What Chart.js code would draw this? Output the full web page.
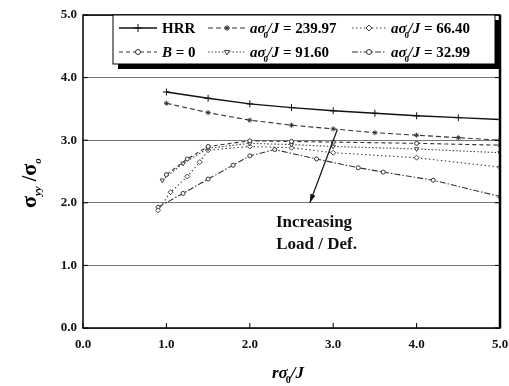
<!DOCTYPE html>
<html>
<head>
<meta charset="utf-8">
<script src="https://cdn.jsdelivr.net/npm/chart.js@4.4.0/dist/chart.umd.min.js"></script>
<style>
  html, body { margin: 0; padding: 0; background: #fff; }
  #wrap { width: 509px; height: 386px; }
</style>
</head>
<body>
<div id="wrap"><canvas id="chart"></canvas></div>
<script>
// axis ticks
const xTicks = [0, 1, 2, 3, 4, 5];
const yTicks = [0, 1, 2, 3, 4, 5];

// series (x = r*sigma0/J, y = sigma_yy/sigma0)
const hrrX = [1.0, 1.5, 2.0, 2.5, 3.0, 3.5, 4.0, 4.5, 5.0];
const hrrY = [3.77, 3.67, 3.58, 3.52, 3.47, 3.43, 3.39, 3.36, 3.33];

const a239X = [1.0, 1.5, 2.0, 2.5, 3.0, 3.5, 4.0, 4.5, 5.0];
const a239Y = [3.59, 3.44, 3.32, 3.24, 3.18, 3.12, 3.08, 3.04, 3.0];

const b0X = [1.0, 1.25, 1.5, 2.0, 2.5, 3.0, 4.0, 5.0];
const b0Y = [2.45, 2.7, 2.9, 2.99, 2.98, 2.97, 2.95, 2.92];

const a91X = [0.95, 1.2, 1.5, 2.0, 2.5, 3.0, 4.0, 5.0];
const a91Y = [2.36, 2.63, 2.87, 2.95, 2.93, 2.9, 2.86, 2.8];

const a66X = [0.9, 1.05, 1.25, 1.4, 1.5, 2.0, 2.5, 3.0, 4.0, 5.0];
const a66Y = [1.88, 2.17, 2.42, 2.65, 2.84, 2.9, 2.88, 2.8, 2.72, 2.57];

const a32X = [0.9, 1.2, 1.5, 1.8, 2.0, 2.3, 2.8, 3.3, 3.6, 4.2, 5.0];
const a32Y = [1.93, 2.15, 2.38, 2.6, 2.75, 2.85, 2.7, 2.56, 2.49, 2.36, 2.1];

// legend labels
const legendValues = ["", "239.97", "", "91.60", "66.40", "32.99"];

// annotation: arrow from start to end, in data units
const arrowFrom = [3.05, 3.17];
const arrowTo = [2.72, 2.0];
const noteLines = ["Increasing", "Load / Def."];
const notePos = [[2.77, 1.69], [2.8, 1.33]];

const pts = (xs, ys) => xs.map((x, i) => ({ x: x, y: ys[i] }));

const serif = "'Liberation Serif', 'DejaVu Serif', serif";

const datasets = [
  { label: "HRR", data: pts(hrrX, hrrY), borderColor: "#111", borderWidth: 1.4,
    pointStyle: "cross", pointRadius: 3.5, borderDash: [] },
  { label: "a239", data: pts(a239X, a239Y), borderColor: "#333", borderWidth: 1.1,
    pointStyle: "star", pointRadius: 2.5, borderDash: [5, 3] },
  { label: "B0", data: pts(b0X, b0Y), borderColor: "#333", borderWidth: 1.1,
    pointStyle: "circle", pointRadius: 2, borderDash: [4, 3] },
  { label: "a91", data: pts(a91X, a91Y), borderColor: "#444", borderWidth: 1.1,
    pointStyle: "triangle", rotation: 180, pointRadius: 2.5, borderDash: [1.5, 2] },
  { label: "a66", data: pts(a66X, a66Y), borderColor: "#444", borderWidth: 1.1,
    pointStyle: "rectRot", pointRadius: 2.5, borderDash: [1.5, 2.5] },
  { label: "a32", data: pts(a32X, a32Y), borderColor: "#333", borderWidth: 1.1,
    pointStyle: "circle", pointRadius: 2, borderDash: [6, 2, 1.5, 2] },
];
datasets.forEach((d) => {
  d.showLine = true;
  d.fill = false;
  d.tension = 0;
  d.backgroundColor = "#fff";
  d.pointBackgroundColor = "#fff";
  d.pointBorderColor = d.borderColor;
  d.pointBorderWidth = 1;
});

// "a sigma_0 / J = value" with a subscript 0
function drawSubLabel(ctx, x, y, value) {
  ctx.textBaseline = "alphabetic";
  ctx.textAlign = "left";
  ctx.font = "italic bold 15px " + serif;
  ctx.fillText("a\u03C3", x, y);
  let w = ctx.measureText("a\u03C3").width;
  ctx.font = "bold 9px " + serif;
  ctx.fillText("0", x + w - 2, y + 5);
  ctx.font = "italic bold 15px " + serif;
  ctx.fillText("/J", x + w + 2, y);
  w += 2 + ctx.measureText("/J").width;
  ctx.font = "bold 15px " + serif;
  ctx.fillText(" = " + value, x + w, y);
}

function sampleLine(ctx, ds, x1, x2, y) {
  ctx.save();
  ctx.strokeStyle = ds.borderColor;
  ctx.fillStyle = "#fff";
  ctx.lineWidth = ds.borderWidth;
  ctx.setLineDash(ds.borderDash);
  ctx.beginPath();
  ctx.moveTo(x1, y);
  ctx.lineTo(x2, y);
  ctx.stroke();
  ctx.setLineDash([]);
  ctx.lineWidth = 1;
  Chart.helpers.drawPoint(ctx, {
    pointStyle: ds.pointStyle, radius: ds.pointRadius + 0.5, rotation: ds.rotation || 0,
    borderWidth: 1
  }, (x1 + x2) / 2, y);
  ctx.restore();
}

const decorPlugin = {
  id: "decor",
  afterDatasetsDraw(chart) {
    const ctx = chart.ctx;
    const a = chart.chartArea;
    const xs = chart.scales.x, ys = chart.scales.y;
    ctx.save();

    // frame
    ctx.strokeStyle = "#000";
    ctx.lineWidth = 1.5;
    ctx.strokeRect(a.left, a.top, a.right - a.left, a.bottom - a.top);
    ctx.lineWidth = 2.5;
    ctx.beginPath();
    ctx.moveTo(a.right, a.top);
    ctx.lineTo(a.right, a.bottom);
    ctx.stroke();

    // inward ticks
    ctx.lineWidth = 1;
    yTicks.forEach((v) => {
      const py = ys.getPixelForValue(v);
      ctx.beginPath(); ctx.moveTo(a.left, py); ctx.lineTo(a.left + 5, py); ctx.stroke();
      ctx.beginPath(); ctx.moveTo(a.right, py); ctx.lineTo(a.right - 5, py); ctx.stroke();
    });
    xTicks.forEach((v) => {
      const px = xs.getPixelForValue(v);
      ctx.beginPath(); ctx.moveTo(px, a.bottom); ctx.lineTo(px, a.bottom - 5); ctx.stroke();
    });

    // arrow
    const x1 = xs.getPixelForValue(arrowFrom[0]), y1 = ys.getPixelForValue(arrowFrom[1]);
    const x2 = xs.getPixelForValue(arrowTo[0]), y2 = ys.getPixelForValue(arrowTo[1]);
    ctx.strokeStyle = "#111";
    ctx.fillStyle = "#111";
    ctx.lineWidth = 1.2;
    ctx.beginPath(); ctx.moveTo(x1, y1); ctx.lineTo(x2, y2); ctx.stroke();
    const ang = Math.atan2(y2 - y1, x2 - x1);
    ctx.beginPath();
    ctx.moveTo(x2, y2);
    ctx.lineTo(x2 - 9 * Math.cos(ang - 0.3), y2 - 9 * Math.sin(ang - 0.3));
    ctx.lineTo(x2 - 9 * Math.cos(ang + 0.3), y2 - 9 * Math.sin(ang + 0.3));
    ctx.closePath();
    ctx.fill();

    // note text
    ctx.font = "bold 17px " + serif;
    ctx.textAlign = "center";
    ctx.textBaseline = "middle";
    noteLines.forEach((t, i) => {
      ctx.fillText(t, xs.getPixelForValue(notePos[i][0]), ys.getPixelForValue(notePos[i][1]));
    });

    // legend box with shadow
    const lx = 113, ly = a.top, lw = a.right - 5 - lx, lh = 49;
    ctx.fillStyle = "#000";
    ctx.fillRect(lx + 5, ly + 5, lw, lh);
    ctx.fillStyle = "#fff";
    ctx.fillRect(lx, ly, lw, lh);
    ctx.strokeStyle = "#000";
    ctx.lineWidth = 1;
    ctx.strokeRect(lx, ly, lw, lh);

    const ds = chart.data.datasets;
    const rows = [ly + 13, ly + 37];
    // [dataset index, sample start, sample end, text x, row]
    const items = [
      [0, 119, 157, 162, 0], [2, 119, 157, 162, 1],
      [1, 208, 246, 250, 0], [3, 208, 246, 250, 1],
      [4, 352, 386, 391, 0], [5, 352, 386, 391, 1],
    ];
    items.forEach(([i, s1, s2, tx, r]) => {
      sampleLine(ctx, ds[i], s1, s2, rows[r]);
      ctx.fillStyle = "#000";
      if (i === 0) {
        ctx.font = "bold 15px " + serif;
        ctx.textAlign = "left";
        ctx.textBaseline = "alphabetic";
        ctx.fillText("HRR", tx, rows[r] + 5);
      } else if (i === 2) {
        ctx.textAlign = "left";
        ctx.textBaseline = "alphabetic";
        ctx.font = "italic bold 15px " + serif;
        ctx.fillText("B", tx, rows[r] + 5);
        const bw = ctx.measureText("B").width;
        ctx.font = "bold 15px " + serif;
        ctx.fillText(" = 0", tx + bw, rows[r] + 5);
      } else {
        drawSubLabel(ctx, tx, rows[r] + 5, legendValues[i]);
      }
    });
    ctx.restore();
  },
  afterDraw(chart) {
    const ctx = chart.ctx;
    ctx.save();
    ctx.fillStyle = "#000";
    // x title: r sigma_0 / J
    ctx.font = "italic bold 17px " + serif;
    ctx.textBaseline = "alphabetic";
    ctx.textAlign = "left";
    const xt = 272, yt = 378;
    ctx.fillText("r\u03C3", xt, yt);
    let w = ctx.measureText("r\u03C3").width;
    ctx.font = "bold 10px " + serif;
    ctx.fillText("0", xt + w - 2, yt + 5);
    ctx.font = "italic bold 17px " + serif;
    ctx.fillText("/J", xt + w + 3, yt);

    // y title: sigma_yy / sigma_o
    ctx.translate(36, 208);
    ctx.rotate(-Math.PI / 2);
    ctx.font = "bold 22px " + serif;
    ctx.fillText("\u03C3", 0, 0);
    w = ctx.measureText("\u03C3").width;
    ctx.font = "italic bold 11px " + serif;
    ctx.fillText("yy", w, 5);
    let w2 = w + ctx.measureText("yy").width;
    ctx.font = "bold 20px " + serif;
    ctx.fillText(" /", w2, 0);
    w2 += ctx.measureText(" /").width;
    ctx.font = "bold 22px " + serif;
    ctx.fillText("\u03C3", w2, 0);
    w2 += ctx.measureText("\u03C3").width;
    ctx.font = "italic bold 11px " + serif;
    ctx.fillText("o", w2, 5);
    ctx.restore();
  },
};

new Chart(document.getElementById("chart"), {
  type: "scatter",
  data: { datasets: datasets },
  options: {
    responsive: true,
    maintainAspectRatio: false,
    animation: false,
    layout: { padding: { left: 8, right: 9, top: 15, bottom: 0 } },
    plugins: { legend: { display: false }, tooltip: { enabled: false } },
    scales: {
      x: {
        type: "linear", min: 0, max: 5,
        afterBuildTicks: (s) => { s.ticks = xTicks.map((v) => ({ value: v })); },
        afterFit: (s) => { s.height = 58; s.paddingLeft = 0; s.paddingRight = 0; },
        grid: { display: false, drawTicks: false },
        border: { display: false },
        ticks: {
          color: "#111", padding: 9,
          font: { family: serif, size: 13, weight: "bold" },
          callback: (v) => Number(v).toFixed(1),
        },
      },
      y: {
        type: "linear", min: 0, max: 5,
        afterBuildTicks: (s) => { s.ticks = yTicks.map((v) => ({ value: v })); },
        afterFit: (s) => { s.width = 75; s.paddingTop = 0; s.paddingBottom = 0; },
        grid: { color: "#777", borderDash: [1, 2], lineWidth: 1, drawTicks: false },
        border: { display: false },
        ticks: {
          color: "#111", padding: 6,
          font: { family: serif, size: 13, weight: "bold" },
          callback: (v) => Number(v).toFixed(1),
        },
      },
    },
  },
  plugins: [decorPlugin],
});
</script>
</body>
</html>
